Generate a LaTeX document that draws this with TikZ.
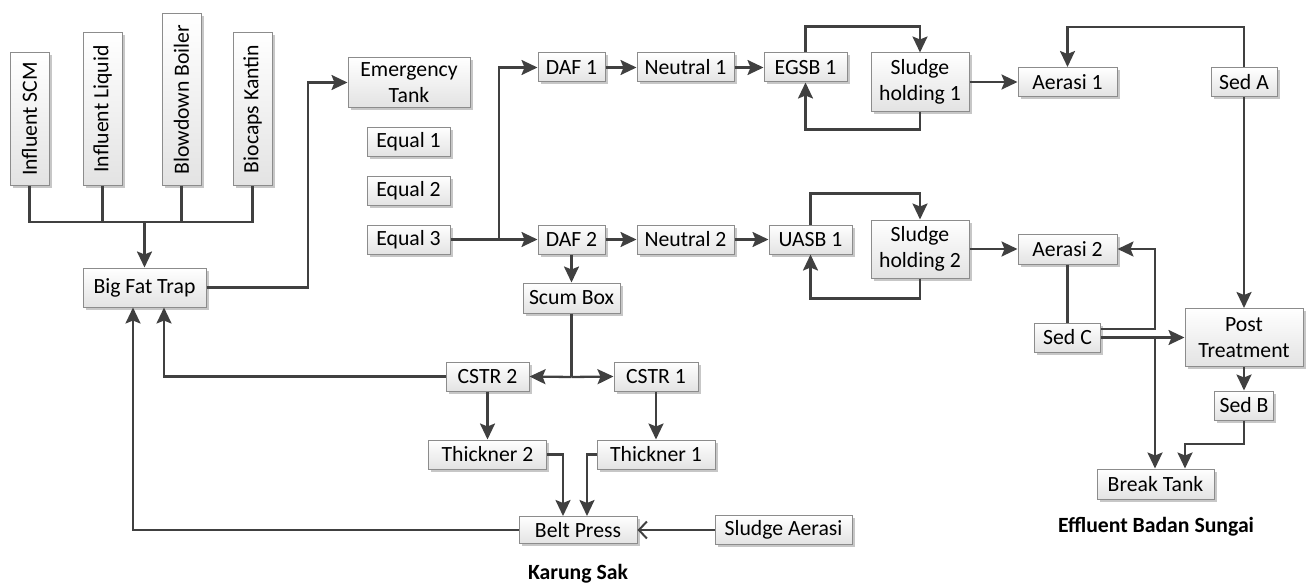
\documentclass[tikz,border=0pt]{standalone}
\usepackage{fontspec}
\setmainfont{Carlito}
\usepackage{graphicx}
\usetikzlibrary{arrows.meta,shadows}
\definecolor{ln}{HTML}{404040}
\tikzset{
  box/.style={draw=black!45, line width=1pt, top color=white, bottom color=black!11,
    inner sep=0pt, align=center, font=\fontsize{21.7}{26}\selectfont,
    drop shadow={shadow xshift=2.5pt, shadow yshift=-2.5pt, fill=black, opacity=0.22}},
  conn/.style={draw=ln, line width=2.3pt},
  arr/.style={conn, -{Stealth[length=16pt, width=15pt, inset=3pt]}},
  barb/.style={conn, -{Straight Barb[length=8pt, width=17pt, line width=2pt]}},
  lbl/.style={font=\fontsize{21.7}{26}\selectfont\bfseries}
}
\begin{document}
\begin{tikzpicture}[x=1pt, y=-1pt]
\useasboundingbox (0,0) rectangle (1307,586);
% source boxes
\node[box, minimum width=39, minimum height=132] (scm) at (29.5,119) {\rotatebox{90}{Influent SCM}};
\node[box, minimum width=39, minimum height=152] (liq) at (102.5,109) {\rotatebox{90}{Influent Liquid}};
\node[box, minimum width=39, minimum height=171] (boil) at (181.5,99.5) {\rotatebox{90}{Blowdown Boiler}};
\node[box, minimum width=39, minimum height=152] (kant) at (252.5,109) {\rotatebox{90}{Biocaps Kantin}};
\node[box, minimum width=123, minimum height=39] (bft) at (144.5,287.5) {Big Fat Trap};
\node[box, minimum width=122, minimum height=49] (emerg) at (409,82.5) {Emergency\\Tank};
\node[box, minimum width=83, minimum height=29] (eq1) at (408.5,141.5) {Equal 1};
\node[box, minimum width=83, minimum height=29] (eq2) at (408.5,190.5) {Equal 2};
\node[box, minimum width=83, minimum height=29] (eq3) at (408.5,239.5) {Equal 3};
% upper line
\node[box, minimum width=67, minimum height=29] (daf1) at (571.5,67.5) {DAF 1};
\node[box, minimum width=97, minimum height=29] (neu1) at (685.5,67.5) {Neutral 1};
\node[box, minimum width=83, minimum height=29] (egsb) at (805.5,67.5) {EGSB 1};
\node[box, minimum width=98, minimum height=58] (sh1) at (920,82) {Sludge\\holding 1};
\node[box, minimum width=99, minimum height=29] (aer1) at (1067.5,82) {Aerasi 1};
\node[box, minimum width=66, minimum height=29] (seda) at (1244,82) {Sed A};
% lower line
\node[box, minimum width=67, minimum height=29] (daf2) at (571.5,239.5) {DAF 2};
\node[box, minimum width=97, minimum height=29] (neu2) at (685.5,239.5) {Neutral 2};
\node[box, minimum width=83, minimum height=29] (uasb) at (810.5,239.5) {UASB 1};
\node[box, minimum width=98, minimum height=58] (sh2) at (920,249) {Sludge\\holding 2};
\node[box, minimum width=99, minimum height=30] (aer2) at (1067.5,249) {Aerasi 2};
\node[box, minimum width=97, minimum height=30] (scum) at (571.5,298) {Scum Box};
% right side
\node[box, minimum width=66, minimum height=29] (sedc) at (1067.5,337.5) {Sed C};
\node[box, minimum width=118, minimum height=58] (post) at (1244,337.5) {Post\\Treatment};
\node[box, minimum width=59, minimum height=29] (sedb) at (1244,405.5) {Sed B};
\node[box, minimum width=117, minimum height=30] (brk) at (1155.5,484) {Break Tank};
% sludge line
\node[box, minimum width=83, minimum height=29] (cstr2) at (487.5,376.5) {CSTR 2};
\node[box, minimum width=84, minimum height=29] (cstr1) at (656,376.5) {CSTR 1};
\node[box, minimum width=118, minimum height=29] (thk2) at (487.5,454.5) {Thickner 2};
\node[box, minimum width=118, minimum height=29] (thk1) at (656,454.5) {Thickner 1};
\node[box, minimum width=118, minimum height=27] (belt) at (578,530) {Belt Press};
\node[box, minimum width=137, minimum height=29] (slaer) at (783.5,530) {Sludge Aerasi};
% labels
\node[lbl] (ks) at (578,574) {Karung Sak};
\node[lbl] (ebs) at (1156,527) {Effluent Badan Sungai};
% connectors
\coordinate (j) at (144.5,222);
\draw[conn] (scm.south) |- (j) -| (kant.south);
\draw[conn] (liq.south) -- (liq.south |- j);
\draw[conn] (boil.south) -- (boil.south |- j);
\draw[arr] (j) -- (bft.north);
\coordinate (e1) at (308,82.5);
\draw[arr] (bft.east) -| (e1) -- (emerg.west);
\coordinate (t) at (499,239.5);
\draw[conn] (eq3.east) -- (t);
\draw[arr] (t) -- (daf2.west);
\draw[arr] (t) |- (daf1.west);
\draw[arr] (daf1) -- (neu1);
\draw[arr] (neu1) -- (egsb);
\draw[arr] (egsb.north) -- ++(0,-26) -| (sh1.north);
\draw[arr] (sh1.south) -- ++(0,18) -| (egsb.south);
\draw[arr] (sh1.east) -- (aer1.west);
\draw[arr] (seda.north) -- ++(0,-40) -| (aer1.north);
\draw[arr] (seda.south) -- (post.north);
\draw[arr] (daf2) -- (neu2);
\draw[arr] (neu2) -- (uasb);
\draw[arr] (uasb.north) -- ++(0,-31) -| (sh2.north);
\draw[arr] (sh2.south) -- ++(0,20) -| (uasb.south);
\draw[arr] (sh2.east) -- (aer2.west);
\draw[conn] (aer2.south) -- (sedc.north);
\coordinate (c1) at (1155,329);
\draw[arr] (sedc.east |- c1) -- (c1) |- (aer2.east);
\draw[arr] (sedc.east) -- (post.west);
\coordinate (c2) at (1155,337.5);
\draw[arr] (c2) -- (brk.north -| c2);
\draw[arr] (post.south) -- (sedb.north);
\coordinate (b1) at (1185,444);
\draw[arr] (sedb.south) |- (b1) -- (brk.north -| b1);
\draw[arr] (daf2.south) -- (scum.north);
\coordinate (s) at (571.5,377);
\draw[conn] (scum.south) -- (s);
\draw[arr] (s) -- (cstr2.east);
\draw[arr] (s) -- (cstr1.west);
\draw[arr] (cstr2.west) -| (bft.south -| 164,0);
\draw[arr] (belt.west) -| (bft.south -| 133,0);
\draw[arr] (cstr2.south) -- (thk2.north);
\draw[arr] (cstr1.south) -- (thk1.north);
\draw[arr] (thk2.east) -| (belt.north -| 563,0);
\draw[arr] (thk1.west) -| (belt.north -| 587,0);
\draw[barb] (slaer.west) -- (belt.east);
\end{tikzpicture}
\end{document}
